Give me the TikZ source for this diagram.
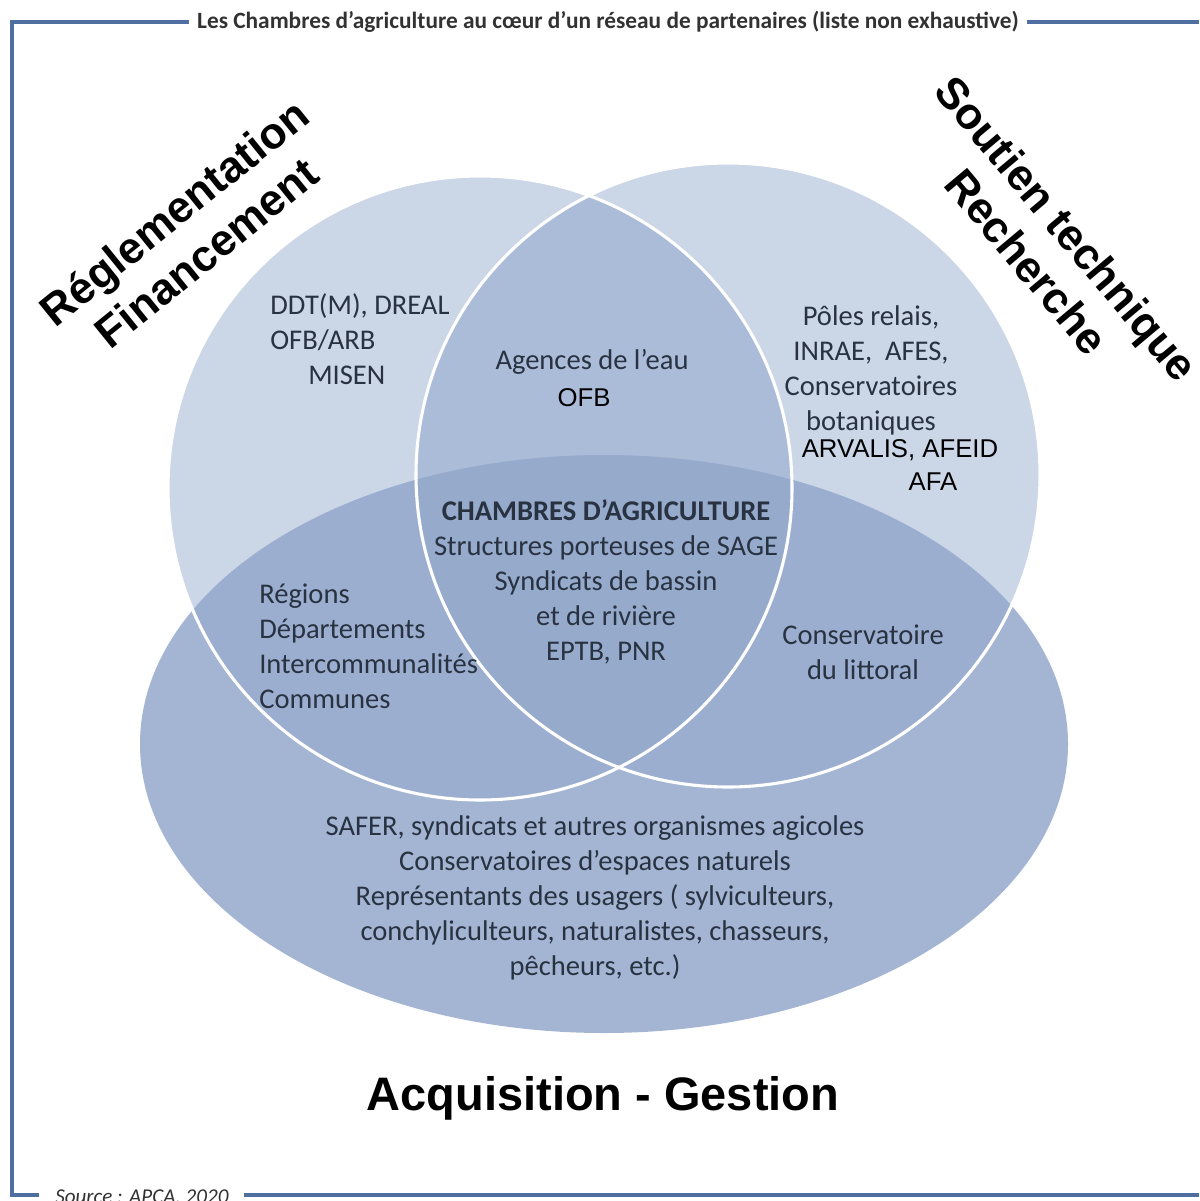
\documentclass[tikz,border=0pt]{standalone}
\usepackage{fontspec}
\setmainfont{Carlito}
\newfontfamily\arialfont{Liberation Sans}
\usetikzlibrary{positioning}
\definecolor{cadre}{RGB}{79,111,160}
\definecolor{bleucercle}{RGB}{115,143,191}
\definecolor{bleuellipse}{RGB}{147,168,203}
\definecolor{texte}{RGB}{40,50,65}
\definecolor{gristitre}{RGB}{50,50,50}

\begin{document}
\begin{tikzpicture}
[
x=0.025cm, y=-0.025cm,
circ/.style={fill=bleucercle, fill opacity=0.37},
bord/.style={draw=white, line width=2.2pt},
body/.style={font=\fontsize{20.3}{24.9}\selectfont, text=texte, inner sep=0pt},
big/.style={font=\arialfont\bfseries\fontsize{31.3}{37}\selectfont, align=center, inner sep=0pt},
sans/.style={font=\arialfont\fontsize{18.3}{22.8}\selectfont, inner sep=0pt},
]
\useasboundingbox (0,0) rectangle (1199,1201);
\draw[cadre, line width=2.2pt] (1199,22) -- (12,22) -- (12,1195) -- (1199,1195);
\fill[circ] (480,488) circle (312);
\fill[circ] (728,475) circle (312);
\fill[bleuellipse, fill opacity=0.85] (604,744) ellipse (464 and 289);
\draw[bord] (480,488) circle (312);
\draw[bord] (728,475) circle (312);
\node[fill=white, inner xsep=0.2cm, inner ysep=0.05cm, text=gristitre, font=\bfseries\fontsize{16.6}{19}\selectfont] (titre) at (608,22) {Les Chambres d'agriculture au cœur d'un réseau de partenaires (liste non exhaustive)};
\node[fill=white, inner xsep=0.4cm, inner ysep=0.05cm, text=gristitre, font=\itshape\fontsize{15}{18}\selectfont, anchor=base west] (source) at (39,1203) {Source : APCA, 2020};
\node[big, rotate=39] (regle) at (190,232) {Réglementation\\Financement};
\node[big, rotate=-50] (soutien) at (1047,245) {Soutien technique\\Recherche};
\node[big, font=\arialfont\bfseries\fontsize{33.4}{40}\selectfont, anchor=base] (acqui) at (603,1110) {Acquisition - Gestion};
\node[body, anchor=west, align=left] (ddt) at (270,339) {DDT(M), DREAL\\OFB/ARB\\\hspace{0.95cm}MISEN};
\node[body] (agences) at (592,362) {Agences de l’eau};
\node[sans] (ofb) at (584,398) {OFB};
\node[body, align=center] (poles) at (871,370) {Pôles relais,\\INRAE, \ AFES,\\Conservatoires\\botaniques};
\node[sans] (arvalis) at (900,450) {ARVALIS, AFEID};
\node[sans] (afa) at (933,482) {AFA};
\node[body, align=center] (chambres) at (606,582) {\textbf{CHAMBRES D’AGRICULTURE}\\Structures porteuses de SAGE\\Syndicats de bassin\\et de rivière\\EPTB, PNR};
\node[body, anchor=west, align=left] (regions) at (259,646) {Régions\\Départements\\Intercommunalités\\Communes};
\node[body, align=center] (littoral) at (863,652) {Conservatoire\\du littoral};
\node[body, align=center] (safer) at (595,898) {SAFER, syndicats et autres organismes agicoles\\Conservatoires d’espaces naturels\\Représentants des usagers ( sylviculteurs,\\conchyliculteurs, naturalistes, chasseurs,\\pêcheurs, etc.)};
\end{tikzpicture}
\end{document}
